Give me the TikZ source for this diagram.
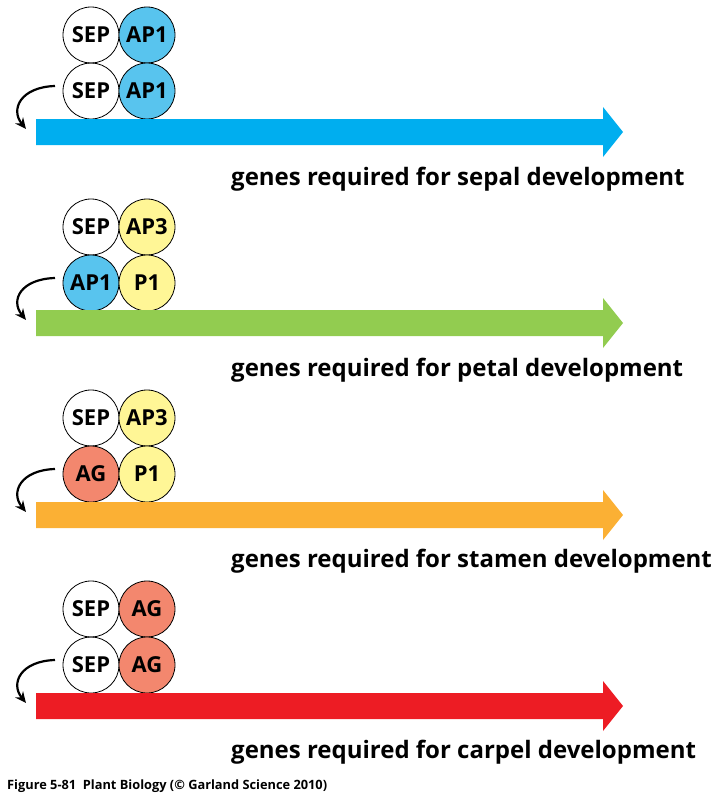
\documentclass[tikz,border=0pt]{standalone}
\usepackage{fontspec}
\setmainfont{Open Sans}
\usepackage{tikz}
\usetikzlibrary{arrows.meta, positioning}

\definecolor{apblue}{RGB}{88,196,238}
\definecolor{apyellow}{RGB}{255,246,150}
\definecolor{agsalmon}{RGB}{243,135,110}
\definecolor{sepalbar}{RGB}{0,174,239}
\definecolor{petalbar}{RGB}{146,204,80}
\definecolor{stamenbar}{RGB}{251,176,52}
\definecolor{carpelbar}{RGB}{237,28,36}

\begin{document}
\begin{tikzpicture}[
  x=1pt, y=-1pt,
  gene/.style={circle, draw, line width=0.8pt, minimum size=56pt, inner sep=0pt,
               outer sep=0pt, font=\fontsize{22}{24}\selectfont\bfseries},
  label/.style={anchor=base west, inner sep=0pt, font=\fontsize{24}{26}\selectfont\bfseries},
  curl/.style={-{Stealth[length=11pt, width=10pt]}, line width=2.2pt}
]
\useasboundingbox (0,0) rectangle (716,800);

% sepal
\node[gene] (sepA) at (91,35) {SEP};
\node[gene, fill=apblue, right=0pt of sepA] (apA) {AP1};
\node[gene, below=0pt of sepA] (sepB) {SEP};
\node[gene, fill=apblue, below=0pt of apA] (apB) {AP1};
\fill[sepalbar] (36,119) -- (603,119) -- (603,107) -- (623,132) -- (603,157) -- (603,145) -- (36,145) -- cycle;
\coordinate (sepS) at (55,86);
\coordinate (sepE) at (26,129);
\draw[curl] (sepS) .. controls +(-34,1) and +(-16,-20) .. (sepE);
\node[label] (sepT) at (231,185) {genes required for sepal development};

% petal
\node[gene] (petA) at (91,227) {SEP};
\node[gene, fill=apyellow, right=0pt of petA] (petB) {AP3};
\node[gene, fill=apblue, below=0pt of petA] (petC) {AP1};
\node[gene, fill=apyellow, below=0pt of petB] (petD) {P1};
\fill[petalbar] (36,310) -- (603,310) -- (603,298) -- (623,323) -- (603,348) -- (603,336) -- (36,336) -- cycle;
\coordinate (petS) at (55,278);
\coordinate (petE) at (26,320);
\draw[curl] (petS) .. controls +(-34,1) and +(-16,-20) .. (petE);
\node[label] (petT) at (231,376) {genes required for petal development};

% stamen
\node[gene] (stmA) at (91,418) {SEP};
\node[gene, fill=apyellow, right=0pt of stmA] (stmB) {AP3};
\node[gene, fill=agsalmon, below=0pt of stmA] (stmC) {AG};
\node[gene, fill=apyellow, below=0pt of stmB] (stmD) {P1};
\fill[stamenbar] (36,502) -- (603,502) -- (603,490) -- (623,515) -- (603,540) -- (603,528) -- (36,528) -- cycle;
\coordinate (stmS) at (55,469);
\coordinate (stmE) at (26,512);
\draw[curl] (stmS) .. controls +(-34,1) and +(-16,-20) .. (stmE);
\node[label] (stmT) at (231,567) {genes required for stamen development};

% carpel
\node[gene] (carA) at (91,609) {SEP};
\node[gene, fill=agsalmon, right=0pt of carA] (carB) {AG};
\node[gene, below=0pt of carA] (carC) {SEP};
\node[gene, fill=agsalmon, below=0pt of carB] (carD) {AG};
\fill[carpelbar] (36,693) -- (603,693) -- (603,681) -- (623,706) -- (603,731) -- (603,719) -- (36,719) -- cycle;
\coordinate (carS) at (55,660);
\coordinate (carE) at (26,703);
\draw[curl] (carS) .. controls +(-34,1) and +(-16,-20) .. (carE);
\node[label] (carT) at (231,758) {genes required for carpel development};

\node[anchor=base west, inner sep=0pt, font=\fontsize{12.8}{15}\selectfont\bfseries] (fig) at (7,789)
  {Figure 5-81\ \ Plant Biology (\textcopyright\ Garland Science 2010)};
\end{tikzpicture}
\end{document}
